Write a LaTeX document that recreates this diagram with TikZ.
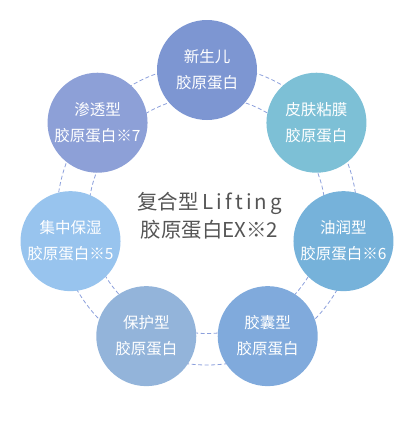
\documentclass[tikz,border=0pt]{standalone}
\usepackage{fontspec}
\usetikzlibrary{calc}
\setmainfont{Noto Sans CJK SC}
\definecolor{ca}{RGB}{125,150,210}
\definecolor{cb}{RGB}{125,192,214}
\definecolor{cc}{RGB}{118,178,218}
\definecolor{cd}{RGB}{128,170,220}
\definecolor{ce}{RGB}{147,180,218}
\definecolor{cf}{RGB}{152,196,238}
\definecolor{cg}{RGB}{141,160,215}
\definecolor{ringc}{RGB}{140,160,220}
\definecolor{titlec}{RGB}{85,85,85}
\tikzset{
  bubble/.style={circle, minimum size=100pt, inner sep=0pt, text=white, align=center,
    font=\fontsize{15.5}{26}\selectfont},
  ring/.style={draw=ringc, line width=0.8pt, dash pattern=on 4pt off 2.5pt},
}
\begin{document}
\begin{tikzpicture}[x=1pt,y=-1pt]
\useasboundingbox (0,0) rectangle (410,423);
\coordinate (O) at (207,210);
\coordinate (R) at (207,215);
\draw[ring] (R) circle[radius=118.5];
\draw[ring] (R) circle[radius=150];
\node[bubble, fill=ca] (n1) at ($(O)+(-90:140)$) {新生儿\\胶原蛋白};
\node[bubble, fill=cb] (n2) at ($(O)+(-38.57:140)$) {皮肤粘膜\\胶原蛋白};
\node[bubble, fill=cc] (n3) at ($(O)+(12.86:140)$) {油润型\\胶原蛋白※6};
\node[bubble, fill=cd] (n4) at ($(O)+(64.29:140)$) {胶囊型\\胶原蛋白};
\node[bubble, fill=ce] (n5) at ($(O)+(115.71:140)$) {保护型\\胶原蛋白};
\node[bubble, fill=cf] (n6) at ($(O)+(167.14:140)$) {集中保湿\\胶原蛋白※5};
\node[bubble, fill=cg] (n7) at ($(O)+(218.57:140)$) {渗透型\\胶原蛋白※7};
\node[text=titlec, align=center, font=\fontsize{20.5}{28}\selectfont] (title) at (209.5,216)
  {复合型\hspace{4pt}{\addfontfeature{LetterSpace=15}Lifting}\\胶原蛋白EX※2};
\end{tikzpicture}
\end{document}
